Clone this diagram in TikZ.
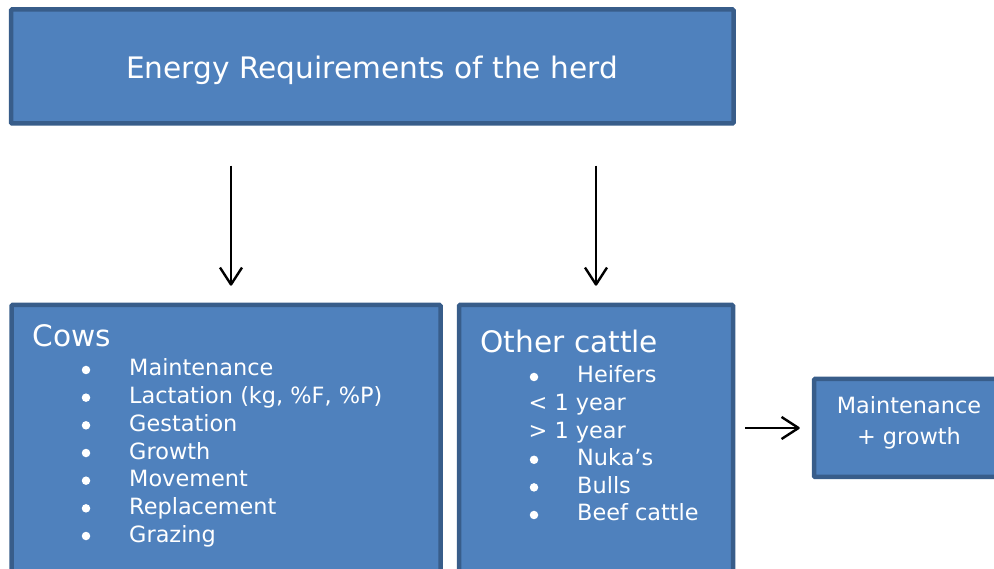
\documentclass[tikz,border=0pt]{standalone}
\usepackage{fontspec}
\setmainfont{DejaVu Sans}
\usepackage{xcolor}
\usetikzlibrary{calc,arrows.meta}

\definecolor{boxfill}{RGB}{79,129,189}
\definecolor{boxline}{RGB}{56,93,138}

\begin{document}
\begin{tikzpicture}[x=1pt,y=1pt,
        herdbox/.style={rectangle,draw=boxline,fill=boxfill,line width=4.5pt,rounded corners=1pt,inner sep=0pt},
        bigtxt/.style={text=white,inner sep=0pt,font=\fontsize{29.6}{35}\selectfont},
        itemtxt/.style={text=white,inner sep=0pt,anchor=base west,font=\fontsize{22.4}{27}\selectfont},
        dot/.style={circle,fill=white,inner sep=0pt,minimum size=8.5pt},
        arr/.style={line width=2.4pt,-{Straight Barb[length=17pt,width=22pt,line join=round]}}]
            \useasboundingbox (0, 0) rectangle (994, 569);
            \clip (0, 0) rectangle (994, 569);

            % boxes
            \node[herdbox,minimum width = 722.5pt,minimum height = 114pt] (herd) at (372.25, 502.5) {};
            \node[herdbox,minimum width = 429pt,minimum height = 295pt] (cows) at (226, 116.5) {};
            \node[herdbox,minimum width = 274pt,minimum height = 295pt] (other) at (596, 116.5) {};
            \node[herdbox,minimum width = 206pt,minimum height = 98pt] (maint) at (917, 141) {};

            % texts
            \node[bigtxt,anchor=base] (herdtitle) at (372, 490) {Energy Requirements of the herd};
            \node[bigtxt,anchor=base west] (cowstitle) at (32.5, 222) {Cows};
            \node[bigtxt,anchor=base west] (othertitle) at (480.5, 216) {Other cattle};

            \foreach \t [count=\i] in {Maintenance, {Lactation (kg, \%F, \%P)}, Gestation, Growth, Movement, Replacement, Grazing} {
                \node[dot] (cowbullet\i) at (86, 199 - \i*27.67 + 27.67) {};
                \node[itemtxt] (cowitem\i) at (129, 193 - \i*27.67 + 27.67) {\t};
            }

            \node[dot] (otherbullet1) at (534, 192) {};
            \node[itemtxt] (otheritem1) at (577, 186) {Heifers};
            \node[itemtxt] (otheritem2) at (528.5, 158.4) {< 1 year};
            \node[itemtxt] (otheritem3) at (528.5, 130.8) {> 1 year};
            \node[dot] (otherbullet4) at (534, 109.2) {};
            \node[itemtxt] (otheritem4) at (577, 103.2) {Nuka’s};
            \node[dot] (otherbullet5) at (534, 81.6) {};
            \node[itemtxt] (otheritem5) at (577, 75.6) {Bulls};
            \node[dot] (otherbullet6) at (534, 54) {};
            \node[itemtxt] (otheritem6) at (577, 48) {Beef cattle};

            \node[itemtxt,anchor=base] (mainttop) at (909, 155) {Maintenance};
            \node[itemtxt,anchor=base] (maintbottom) at (909, 124) {+ growth};

            % arrows
            \draw [arr,shorten <=40pt,shorten >=17pt]([xshift=5pt]herd.south -| cows.north) -- ([xshift=5pt]cows.north);
            \draw [arr,shorten <=40pt,shorten >=17pt](herd.south -| other.north) -- (other.north);
            \draw [arr,shorten <=10pt,shorten >=12pt](other.east |- maint.west) -- (maint.west);
        \end{tikzpicture}
\end{document}
